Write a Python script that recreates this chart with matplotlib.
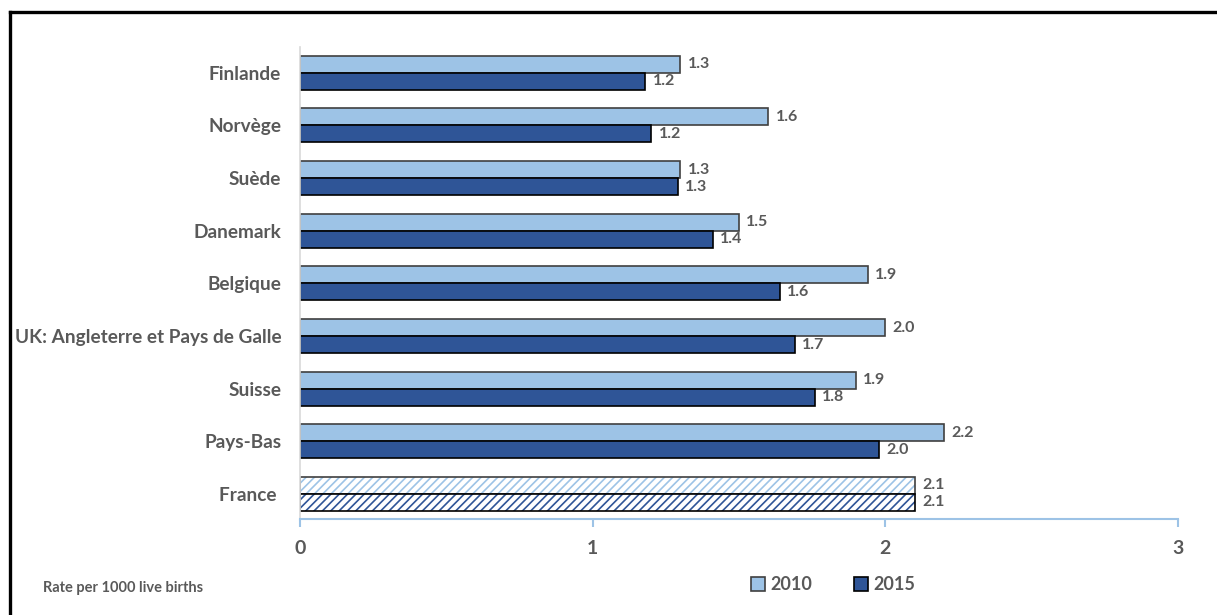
import matplotlib.pyplot as plt
import matplotlib.patches as mpatches
from matplotlib.lines import Line2D
import numpy as np

plt.rcParams['font.family'] = ['Lato', 'DejaVu Sans']

# data
countries = ['Finlande', 'Norvège', 'Suède', 'Danemark', 'Belgique',
             'UK: Angleterre et Pays de Galle', 'Suisse', 'Pays-Bas', 'France ']
rate_2010 = [1.30, 1.60, 1.30, 1.50, 1.94, 2.00, 1.90, 2.20, 2.10]
rate_2015 = [1.18, 1.20, 1.29, 1.41, 1.64, 1.69, 1.76, 1.98, 2.10]
years = ['2010', '2015']
xticks = [0, 1, 2, 3]

light = '#9DC3E6'
dark = '#2F5597'
grey = '#595959'

fig = plt.figure(figsize=(12.17, 6.15), dpi=100)
ax = fig.add_axes([300/1217, 96/615, 878/1217, 472/615])

y = np.arange(len(countries))
h = 0.323
n = len(countries) - 1  # last one (France) is hatched

# normal bars
ax.barh(y[:n] - h/2, rate_2010[:n], height=h, color=light, edgecolor='#404040', linewidth=1.2)
ax.barh(y[:n] + h/2, rate_2015[:n], height=h, color=dark, edgecolor='black', linewidth=1.2)

# France hatched
plt.rcParams['hatch.linewidth'] = 1.2
ax.barh(y[n:] - h/2, rate_2010[n:], height=h, color='white', edgecolor=light, hatch='////', linewidth=0)
ax.barh(y[n:] - h/2, rate_2010[n:], height=h, color='none', edgecolor='#404040', linewidth=1.2)
ax.barh(y[n:] + h/2, rate_2015[n:], height=h, color='white', edgecolor=dark, hatch='////', linewidth=0)
ax.barh(y[n:] + h/2, rate_2015[n:], height=h, color='none', edgecolor='black', linewidth=1.2)

# value labels
for i in range(len(countries)):
    ax.text(rate_2010[i] + 0.025, y[i] - h/2, f'{rate_2010[i]:.1f}', va='center', ha='left',
            fontsize=11.5, fontweight='bold', color=grey)
    ax.text(rate_2015[i] + 0.025, y[i] + h/2, f'{rate_2015[i]:.1f}', va='center', ha='left',
            fontsize=11.5, fontweight='bold', color=grey)

ax.set_xlim(0, 3)
ax.set_ylim(8.475, -0.49)
ax.set_yticks(y)
ax.set_yticklabels(countries, fontsize=13.7, fontweight='bold', color=grey)
ax.set_xticks(xticks)
ax.set_xticklabels([str(t) for t in xticks], fontsize=14, fontweight='bold', color=grey)
ax.tick_params(axis='y', length=0, pad=13.5)
ax.tick_params(axis='x', length=6, width=1.5, color=light, direction='out', pad=9)

for s in ['top', 'right']:
    ax.spines[s].set_visible(False)
ax.spines['bottom'].set_color(light)
ax.spines['bottom'].set_linewidth(1.5)
ax.spines['left'].set_color('#D9D9D9')
ax.spines['left'].set_linewidth(1.2)

# legend
handles = [mpatches.Patch(facecolor=light, edgecolor='#404040', linewidth=1.2),
           mpatches.Patch(facecolor=dark, edgecolor='black', linewidth=1.2)]
leg = fig.legend(handles, years, loc='center left', bbox_to_anchor=(738/1217, 30/615),
                 ncol=2, frameon=False, handlelength=0.8, handleheight=0.8,
                 handletextpad=0.3, columnspacing=2.3, borderpad=0.2,
                 prop={'size': 13, 'weight': 'bold'})
for t in leg.get_texts():
    t.set_color(grey)

fig.text(43/1217, 27/615, 'Rate per 1000 live births', fontsize=10.5, fontweight='bold',
         color=grey, va='center', ha='left')

# outer frame (top and left visible)
fig.add_artist(Line2D([10/1217, 1.0], [1 - 12/615, 1 - 12/615], color='black', linewidth=2.4,
                      transform=fig.transFigure))
fig.add_artist(Line2D([10/1217, 10/1217], [0, 1 - 12/615], color='black', linewidth=2.4,
                      transform=fig.transFigure))

plt.savefig('out.png', dpi=100)
